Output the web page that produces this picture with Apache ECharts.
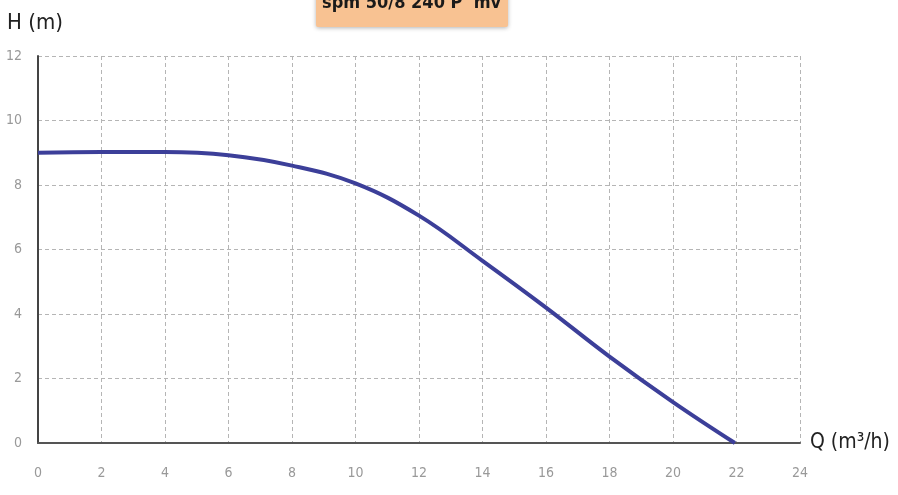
<!DOCTYPE html>
<html>
<head>
<meta charset="utf-8">
<script src="https://cdn.jsdelivr.net/npm/echarts@6/dist/echarts.min.js"></script>
<style>html,body{margin:0;padding:0;background:#fff}#c{width:898px;height:495px}</style>
</head>
<body>
<div id="c"></div>
<script>
const titleText = 'spm 50/8 240 P  mv';
const qValues = [0, 2, 4, 6, 8, 10, 12, 14, 16, 18, 20, 21.95];
const hValues = [9.0, 9.02, 9.02, 8.92, 8.6, 8.05, 7.05, 5.65, 4.2, 2.68, 1.27, 0];
const xTicks = [0, 2, 4, 6, 8, 10, 12, 14, 16, 18, 20, 22, 24];
const yTicks = [0, 2, 4, 6, 8, 10, 12];

const narrow = "'Liberation Sans Narrow', 'DejaVu Sans Condensed', 'Open Sans', sans-serif";
const chart = echarts.init(document.getElementById('c'));
chart.setOption({
  animation: false,
  grid: { left: 38, right: 98, top: 56, bottom: 52, containLabel: false, outerBoundsMode: 'none' },
  xAxis: {
    type: 'value', min: xTicks[0], max: xTicks[xTicks.length - 1], interval: 2,
    name: 'Q (m³/h)', nameLocation: 'end', nameGap: 10,
    nameTextStyle: { fontFamily: narrow, fontSize: 21, color: '#222', verticalAlign: 'middle' },
    axisLine: { lineStyle: { color: '#555', width: 2 } },
    axisTick: { show: false },
    axisLabel: { margin: 23, color: '#999', fontSize: 14, fontFamily: narrow },
    splitLine: { show: true, lineStyle: { color: '#b5b5b5', type: [4, 3], width: 1 } }
  },
  yAxis: {
    type: 'value', min: yTicks[0], max: yTicks[yTicks.length - 1], interval: 2,
    name: 'H (m)', nameLocation: 'end', nameGap: 22,
    nameTextStyle: { fontFamily: narrow, fontSize: 22, color: '#222', align: 'center', padding: [0, 6, 0, 0] },
    axisLine: { show: true, lineStyle: { color: '#444', width: 2 } },
    axisTick: { show: false },
    axisLabel: { margin: 16, color: '#999', fontSize: 14, fontFamily: narrow },
    splitLine: { show: true, lineStyle: { color: '#b5b5b5', type: [4, 3], width: 1 } }
  },
  series: [{
    type: 'line', smooth: 0.4, showSymbol: false,
    data: qValues.map((q, i) => [q, hValues[i]]),
    lineStyle: { color: '#3c3f99', width: 4 }
  }],
  graphic: [{
    type: 'rect', left: 316, top: -6, shape: { width: 192, height: 33, r: 2 },
    style: { fill: '#f8c292', shadowBlur: 4, shadowColor: 'rgba(0,0,0,0.3)', shadowOffsetY: 1 }
  }, {
    type: 'text', left: 322, top: -6,
    style: { text: titleText, fontFamily: narrow, fontWeight: 'bold', fontSize: 18, fill: '#1a1a1a' }
  }]
});
</script>
</body>
</html>
